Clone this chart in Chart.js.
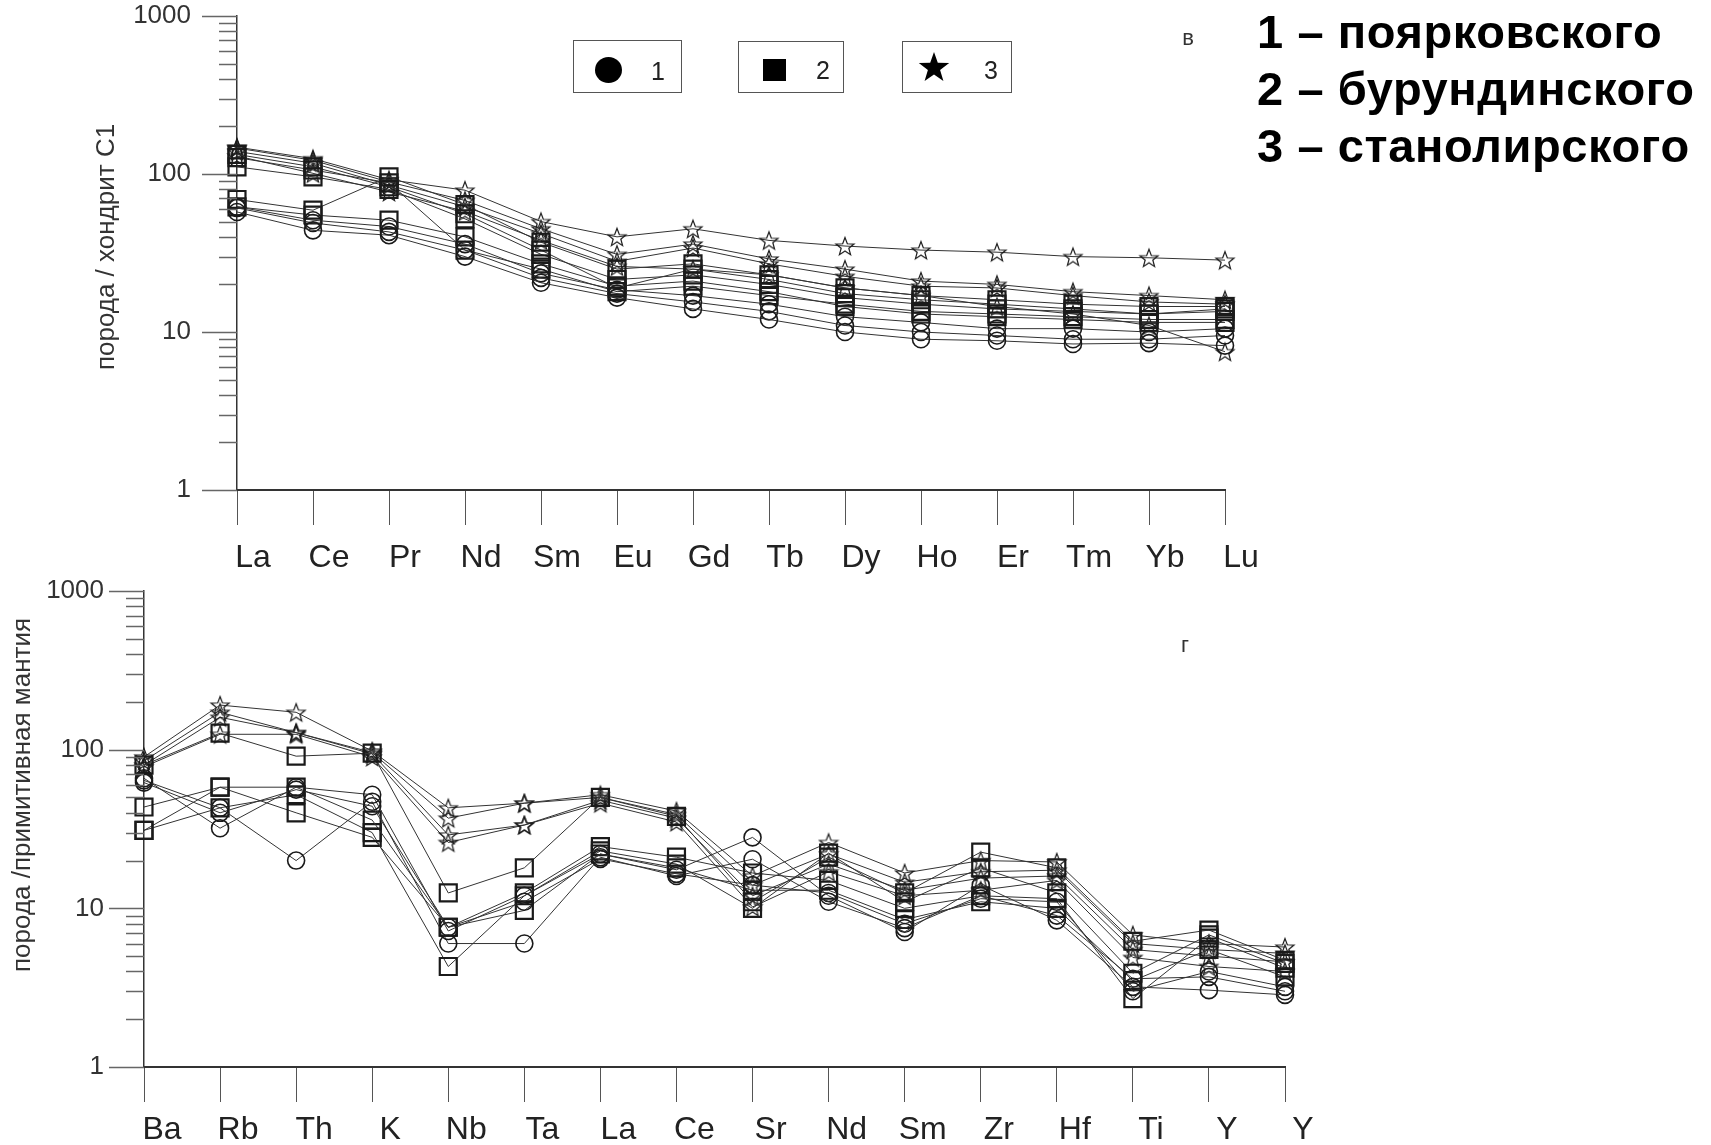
<!DOCTYPE html>
<html>
<head>
<meta charset="utf-8">
<script src="https://cdn.jsdelivr.net/npm/chart.js@4.4.1/dist/chart.umd.min.js"></script>
<style>
  html, body { margin: 0; padding: 0; background: #fff; }
  body { width: 1711px; height: 1145px; position: relative; overflow: hidden;
         font-family: "Liberation Sans", Arial, sans-serif; color: #222; }
  canvas { position: absolute; left: 0; top: 0; }
  .lbox { position: absolute; border: 1.5px solid #555; box-sizing: border-box; }
  .num { position: absolute; font-size: 25px; line-height: 1; transform: translate(-50%, -50%); color: #222; }
  .small { position: absolute; font-size: 22px; line-height: 1; transform: translate(-50%, -50%); color: #333; }
  .big { position: absolute; left: 1257px; top: 3px; font-weight: bold; font-size: 47px;
         letter-spacing: 0.6px; line-height: 57px; color: #000; white-space: nowrap; }
</style>
</head>
<body>
<canvas id="ree" width="1711" height="1145"></canvas>
<canvas id="spider" width="1711" height="1145"></canvas>

<!-- legend boxes -->
<div class="lbox" style="left:573px;top:40px;width:109px;height:53px"></div>
<div style="position:absolute;left:595px;top:57px;width:27px;height:26px;border-radius:50%;background:#000"></div>
<div class="num" style="left:658px;top:71px">1</div>

<div class="lbox" style="left:738px;top:41px;width:106px;height:52px"></div>
<div style="position:absolute;left:763px;top:59px;width:23px;height:22px;background:#000"></div>
<div class="num" style="left:823px;top:70px">2</div>

<div class="lbox" style="left:902px;top:41px;width:110px;height:52px"></div>
<svg style="position:absolute;left:917px;top:51px" width="34" height="32" viewBox="-17 -17 34 32">
  <polygon fill="#000" points="0,-16 3.8,-5.2 15.2,-4.9 6.1,2 9.4,13 0,6.5 -9.4,13 -6.1,2 -15.2,-4.9 -3.8,-5.2"/>
</svg>
<div class="num" style="left:991px;top:70px">3</div>

<div class="small" style="left:1188px;top:38px">в</div>
<div class="small" style="left:1185px;top:645px">г</div>

<div class="big">1 – поярковского<br>2 – бурундинского<br>3 – станолирского</div>

<script>
const FONT = "'Liberation Sans', Arial, sans-serif";
const W = 1711, H = 1145;

// REE, порода / хондрит C1
const reeLabels = ['La', 'Ce', 'Pr', 'Nd', 'Sm', 'Eu', 'Gd', 'Tb', 'Dy', 'Ho', 'Er', 'Tm', 'Yb', 'Lu'];
const reeCircles = [
    [57.5, 44, 41, 30, 20.5, 16.5, 14, 12, 10, 9, 8.8, 8.4, 8.5, 8.2],
    [61, 49, 43, 33, 22, 17.5, 15.5, 13.5, 11, 10, 9.5, 9, 9, 9.5],
    [62, 51, 46.5, 36, 23.5, 18.5, 17, 15, 12.5, 11.5, 10.5, 10.5, 10, 10.5],
];
const reeSquares = [
    [69, 59, 96, 64, 37, 25, 27, 23, 19, 17, 16, 15, 14.5, 14.5],
    [62, 55, 51, 40, 27, 19.5, 21, 18, 14.5, 13, 12.5, 12, 11.5, 11.5],
    [111, 96, 80, 52, 31, 21.5, 23, 20, 16.5, 15, 14, 13.5, 13, 13.5],
    [127, 106, 88, 33, 25, 18, 19.5, 17, 15, 13.5, 13, 12.5, 12, 12],
    [133, 111, 83, 56, 33, 19, 25, 21.5, 17.5, 16, 15, 14, 13, 14],
];
const reeStars = [
    [148, 125, 92, 79, 50, 40, 45, 38, 35, 33, 32, 30, 29.5, 28.5],
    [146, 122, 89, 68, 45, 31, 36, 29, 25, 21, 20, 18, 17, 16],
    [139, 117, 85, 62, 42, 28, 34, 27, 22.5, 19.5, 19, 17, 15.5, 15],
    [130, 101, 77, 58, 38, 26, 25, 23, 19, 17, 14.5, 13, 11, 7.5],
];

// spider, порода / примитивная мантия
const spiderLabels = ['Ba', 'Rb', 'Th', 'K', 'Nb', 'Ta', 'La', 'Ce', 'Sr', 'Nd', 'Sm', 'Zr', 'Hf', 'Ti', 'Y', 'Y'];
const spiderCircles = [
    [66, 32, 58, 52, 7.2, 12, 22, 17.5, 28, 12, 7.1, 14, 8.4, 3.2, 3.05, 2.85],
    [64, 43, 20, 47, 6.0, 6.0, 21, 16, 20.4, 11, 7.5, 12, 9, 3.6, 3.7, 3.0],
    [62, 40, 56, 44, 7.6, 11, 20.5, 16.5, 14, 12.5, 8, 11.5, 11, 3.0, 4.0, 3.2],
];
const spiderSquares = [
    [80, 127, 91, 95, 12.5, 18, 50, 38, 11, 21, 12.5, 22.6, 18, 6.2, 7.3, 4.7],
    [43.5, 58, 58, 36, 7.6, 12.5, 24.5, 21, 16.7, 15, 10, 12, 11.5, 2.7, 6.5, 4.2],
    [31, 43, 52, 30, 4.3, 12, 23, 19, 10, 22.3, 11, 18, 12.5, 3.9, 6.8, 4.5],
    [31, 58, 40, 28, 7.6, 9.7, 22, 18, 13, 13, 8.5, 11, 10, 3.5, 5.5, 3.7],
];
const spiderStars = [
    [90, 191, 172, 98, 43, 46, 52, 41, 16, 26, 16.7, 20, 19.6, 6.8, 6.0, 5.7],
    [85, 172, 128, 96, 37, 46, 50, 39, 14, 22, 14.6, 17, 17.4, 6.0, 5.5, 5.2],
    [80, 160, 128, 94, 29, 33.5, 48, 37, 12, 19, 13, 15.5, 16, 5.5, 5.0, 4.6],
    [78, 125, 125, 90, 26, 33.5, 46, 35, 10.2, 17, 12, 13, 15, 4.9, 4.3, 4.0],
];

// open star marker
function makeStar(size, lw) {
    const c = document.createElement('canvas');
    c.width = size;
    c.height = size;
    const g = c.getContext('2d');
    const cx = size / 2, cy = size / 2 + 1;
    const ro = 9.5, ri = ro * 0.42;
    g.beginPath();
    for (let i = 0; i < 10; i++) {
        const r = i % 2 ? ri : ro;
        const a = -Math.PI / 2 + i * Math.PI / 5;
        g.lineTo(cx + r * Math.cos(a), cy + r * Math.sin(a));
    }
    g.closePath();
    g.strokeStyle = '#1a1a1a';
    g.lineWidth = lw;
    g.stroke();
    return c;
}
const starImg = makeStar(22, 1.2);

function makeSets(rows, point, radius, bw) {
    return rows.map((vals) => ({
        data: vals,
        borderColor: '#333',
        borderWidth: 1,
        pointStyle: point,
        pointRadius: radius,
        pointBorderWidth: bw,
        pointBorderColor: '#1a1a1a',
        pointBackgroundColor: 'rgba(0,0,0,0)',
        clip: false,
    }));
}

const isDecade = (v) => Math.abs(Math.log10(v) - Math.round(Math.log10(v))) < 1e-9;

// major / minor tick marks on the left of the log axis
const yTickMarks = {
    id: 'yTickMarks',
    afterDraw(chart) {
        const ys = chart.scales.y;
        const ctx = chart.ctx;
        ctx.save();
        ctx.strokeStyle = '#666';
        ctx.lineWidth = 1.5;
        ys.ticks.forEach((t) => {
            const py = Math.round(ys.getPixelForValue(t.value)) + 0.5;
            const len = isDecade(t.value) ? 35 : 18;
            ctx.beginPath();
            ctx.moveTo(ys.right - len, py);
            ctx.lineTo(ys.right, py);
            ctx.stroke();
        });
        ctx.restore();
    },
};

const axisTitle = {
    id: 'axisTitle',
    afterDraw(chart, args, opts) {
        const ctx = chart.ctx;
        ctx.save();
        ctx.translate(opts.x, opts.y);
        ctx.rotate(-Math.PI / 2);
        ctx.font = `${opts.size}px ${FONT}`;
        ctx.fillStyle = '#333';
        ctx.textAlign = 'center';
        ctx.textBaseline = 'middle';
        ctx.fillText(opts.text, 0, 0);
        ctx.restore();
    },
};

function makeChart(id, labels, datasets, area, cfg) {
    const chart = new Chart(document.getElementById(id), {
        type: 'line',
        data: { labels: labels, datasets: datasets },
        plugins: [yTickMarks, axisTitle],
        options: {
            responsive: false,
            animation: false,
            devicePixelRatio: 1,
            layout: {
                padding: {
                    left: 0,
                    top: area.top,
                    right: W - area.right,
                    bottom: H - area.bottom - cfg.xh,
                },
            },
            plugins: {
                legend: { display: false },
                tooltip: { enabled: false },
                axisTitle: { text: cfg.title, x: cfg.tx, y: cfg.ty, size: 26 },
            },
            scales: {
                x: {
                    type: 'category',
                    offset: false,
                    grid: { display: true, drawOnChartArea: false, drawTicks: true, tickLength: 35, color: '#555', lineWidth: 1 },
                    border: { display: true, color: '#333', width: 2 },
                    ticks: {
                        autoSkip: false, maxRotation: 0, minRotation: 0,
                        padding: cfg.xPad, labelOffset: cfg.labelOffset,
                        color: '#222', font: { family: FONT, size: 32 },
                    },
                    afterFit: (s) => { s.height = cfg.xh; },
                },
                y: {
                    type: 'logarithmic',
                    min: 1,
                    max: 1000,
                    // invisible marks only push the labels off the axis
                    grid: { display: true, drawOnChartArea: false, drawTicks: true, tickLength: cfg.yPad, color: 'rgba(0,0,0,0)' },
                    border: { display: true, color: '#333', width: 1.5 },
                    ticks: {
                        autoSkip: false,
                        padding: 0,
                        color: '#333',
                        font: { family: FONT, size: 26 },
                        callback: (v) => (isDecade(v) ? String(Math.round(v)) : ''),
                    },
                    afterBuildTicks: (s) => {
                        const t = [];
                        for (let e = 0; e < 3; e++) {
                            for (let m = 1; m < 10; m++) t.push({ value: m * Math.pow(10, e) });
                        }
                        t.push({ value: 1000 });
                        s.ticks = t;
                    },
                    afterFit: (s) => { s.width = area.left; },
                },
            },
        },
    });

    // nudge the padding so the plot area lands where it should
    const a = chart.chartArea;
    const p = chart.options.layout.padding;
    const dt = area.top - a.top, db = a.bottom - area.bottom, dr = a.right - area.right;
    if (dt || db || dr) {
        p.top += dt;
        p.bottom += db;
        p.right += dr;
        chart.update();
    }
    return chart;
}

makeChart('ree', reeLabels, [
    ...makeSets(reeCircles, 'circle', 8.5, 1.6),
    ...makeSets(reeSquares, 'rect', 12, 2.2),
    ...makeSets(reeStars, starImg, 9, 1),
], { left: 237, top: 16, right: 1225, bottom: 490 },
{ xh: 100, xPad: 14, labelOffset: 16, yPad: 46, title: 'порода / хондрит С1', tx: 107, ty: 247 });

makeChart('spider', spiderLabels, [
    ...makeSets(spiderCircles, 'circle', 8.5, 1.6),
    ...makeSets(spiderSquares, 'rect', 12, 2.2),
    ...makeSets(spiderStars, starImg, 9, 1),
], { left: 144, top: 591, right: 1285, bottom: 1067 },
{ xh: 78, xPad: 9, labelOffset: 18, yPad: 40, title: 'порода /примитивная мантия', tx: 23, ty: 795 });
</script>
</body>
</html>
